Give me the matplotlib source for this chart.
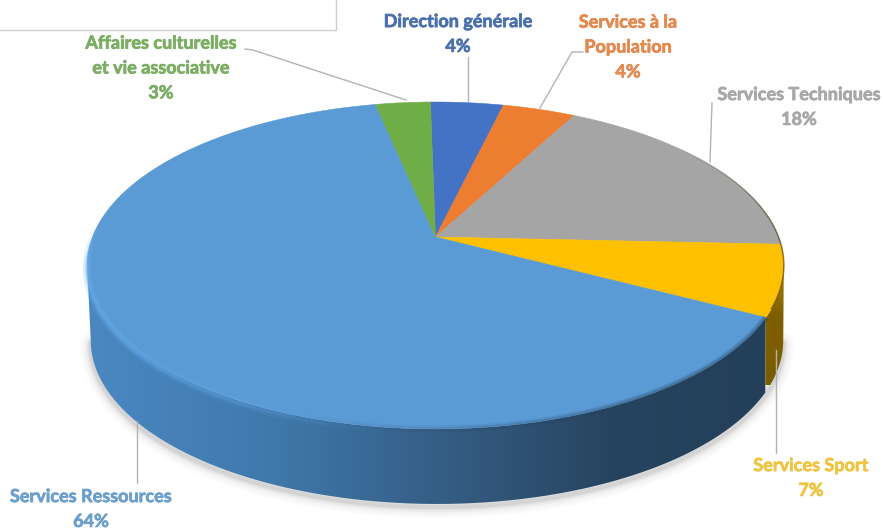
import numpy as np
import matplotlib
matplotlib.use("Agg")
import matplotlib.pyplot as plt
import matplotlib.patheffects as pe
from matplotlib.collections import LineCollection
from matplotlib.colors import LinearSegmentedColormap, to_rgb
from matplotlib.patches import Polygon, Rectangle

plt.rcParams["font.family"] = ["Lato", "DejaVu Sans"]

# clockwise from 12 o'clock
categories = ["Direction générale", "Services à la\nPopulation", "Services Techniques",
              "Services Sport", "Services Ressources",
              "Affaires culturelles\net vie associative"]
values = [4, 4, 18, 7, 64, 3]
colors = ["#4472c4", "#ed7d31", "#a5a5a5", "#ffc000", "#5b9bd5", "#70ad47"]
text_colors = ["#4a70b0", "#e38a50", "#a8a8a8", "#eec440", "#6c9fcb", "#7bae63"]
label_pos = [(458, 34), (628, 47), (799, 107), (811, 478), (91, 509), (161, 68)]
leaders = [[(468, 57), (468, 101)],
           [(583, 52), (572, 52), (540, 108)],
           [(712, 103), (710, 162)],
           [(776, 350), (776, 453)],
           [(137, 421), (137, 483)],
           [(245, 49), (253, 50), (406, 100)]]

W, H = 883, 529
X0, Y0 = 435.5, 237     # pie centre on the top face
A, B, K = 343, 158.5, 0.1743    # perspective of the disc
DEPTH = 75
START = -1.0
# where the rim is widest, so the wall outline runs straight down from there
SIDE_RIGHT, SIDE_LEFT = 100, 260


def rim(theta, drop=0.0, shrink=1.0, shift=0.0):
    """Rim point(s) for theta in degrees clockwise from the back of the pie."""
    t = np.radians(theta)
    u, v = np.sin(t), -np.cos(t)
    d = 1 - K * v
    return X0 + shift + shrink * A * u / d, Y0 + B * v / d + drop


def side_poly(t1, t2):
    ts = np.linspace(t1, t2, 200)
    x1, y1 = rim(ts)
    x2, y2 = rim(ts, DEPTH, 0.994, 1.5)
    return np.r_[np.c_[x1, y1], np.c_[x2, y2][::-1]]


def fading_line(ax, ts, alphas, color, lw, drop=0.0):
    """Stroke a stretch of the rim with an alpha that varies along it."""
    x, y = rim(ts, drop)
    pts = np.c_[x, y].reshape(-1, 1, 2)
    segs = np.concatenate([pts[:-1], pts[1:]], axis=1)
    rgba = np.zeros((len(segs), 4))
    rgba[:, :3] = to_rgb(color)
    rgba[:, 3] = alphas[:-1]
    ax.add_collection(LineCollection(segs, colors=rgba, linewidths=lw, zorder=4))


fig = plt.figure(figsize=(W / 100, H / 100), dpi=100)
ax = fig.add_axes([0, 0, 1, 1])
ax.set_xlim(0, W)
ax.set_ylim(H, 0)
ax.axis("off")

edges = START + 3.6 * np.r_[0, np.cumsum(values)]

# soft shadow under the body
ts = np.linspace(SIDE_RIGHT, SIDE_LEFT, 300)
sx, sy = rim(ts, DEPTH + 3, 0.994, 1.5)
for lw, alpha in zip([16, 12, 8, 5, 3], [0.025, 0.035, 0.05, 0.07, 0.09]):
    ax.plot(sx, sy, color="#555555", lw=lw, alpha=alpha, solid_capstyle="round")

# side wall of the big slice, dark towards the right
blue_side = LinearSegmentedColormap.from_list(
    "blue_side", [(0, "#4b88c2"), (0.27, "#3f78ab"), (0.55, "#33597d"),
                  (0.75, "#264460"), (1, "#233f58")])
im = ax.imshow(np.linspace(0, 1, 256)[None, :], cmap=blue_side, extent=(86, 790, H, 0),
               aspect="auto", zorder=2)
p = Polygon(side_poly(edges[4], SIDE_LEFT), transform=ax.transData, fc="none", ec="none")
ax.add_patch(p)
im.set_clip_path(p)

# side wall of the yellow slice
gold_side = LinearSegmentedColormap.from_list(
    "gold_side", [(0, "#7a5c00"), (0.55, "#7f6000"), (0.85, "#a98000"), (1, "#d8a400")])
im2 = ax.imshow(np.linspace(1, 0, 64)[:, None], cmap=gold_side, extent=(760, 790, 385, 255),
                aspect="auto", zorder=2)
p2 = Polygon(side_poly(SIDE_RIGHT, edges[4]), transform=ax.transData, fc="none", ec="none")
ax.add_patch(p2)
im2.set_clip_path(p2)

ax.set_xlim(0, W)
ax.set_ylim(H, 0)

# top face
for i, c in enumerate(colors):
    ts = np.linspace(edges[i], edges[i + 1], 120)
    x, y = rim(ts)
    ax.add_patch(Polygon(np.c_[np.r_[X0, x], np.r_[Y0, y]], fc=c, ec=c, lw=0.4, zorder=3))

# bevel along the front rim: bright on the left, dark on the right
ts = np.linspace(185, 275, 200)
fade = np.clip((ts - 185) / 50, 0, 1) * np.clip((275 - ts) / 12, 0, 1)
fading_line(ax, ts, 0.22 * fade, "#69b0f2", 6, 2.5)
fading_line(ax, ts, 0.5 * fade, "#69b0f2", 2.5, 2.5)

ts = np.linspace(edges[4], 200, 150)
fade = np.clip((200 - ts) / 50, 0, 1)
fading_line(ax, ts, 0.2 * fade, "#264460", 5, 0)
fading_line(ax, ts, 0.3 * fade, "#264460", 2.5, 0)

# dark hairline on the upper right edge
ts = np.linspace(50, 115, 100)
fading_line(ax, ts, 0.65 * np.clip((ts - 50) / 35, 0, 1), "#4a3c18", 1.1)

# leader lines
for pts in leaders:
    lx, ly = zip(*pts)
    ax.plot(lx, ly, color="#b3b3b3", lw=1.0, zorder=5)

# labels
for name, val, col, (lx, ly) in zip(categories, values, text_colors, label_pos):
    ax.text(lx, ly, f"{name}\n{val}%", color=col, fontsize=13, fontweight="bold",
            ha="center", va="center", linespacing=1.56, zorder=6,
            path_effects=[pe.withStroke(linewidth=0.5, foreground=col)])

# frame left at the top corner
ax.add_patch(Rectangle((-5, -5), 341, 35, fc="white", ec="#cfcfcf", lw=1, zorder=1))

fig.savefig("out.png", dpi=100)
